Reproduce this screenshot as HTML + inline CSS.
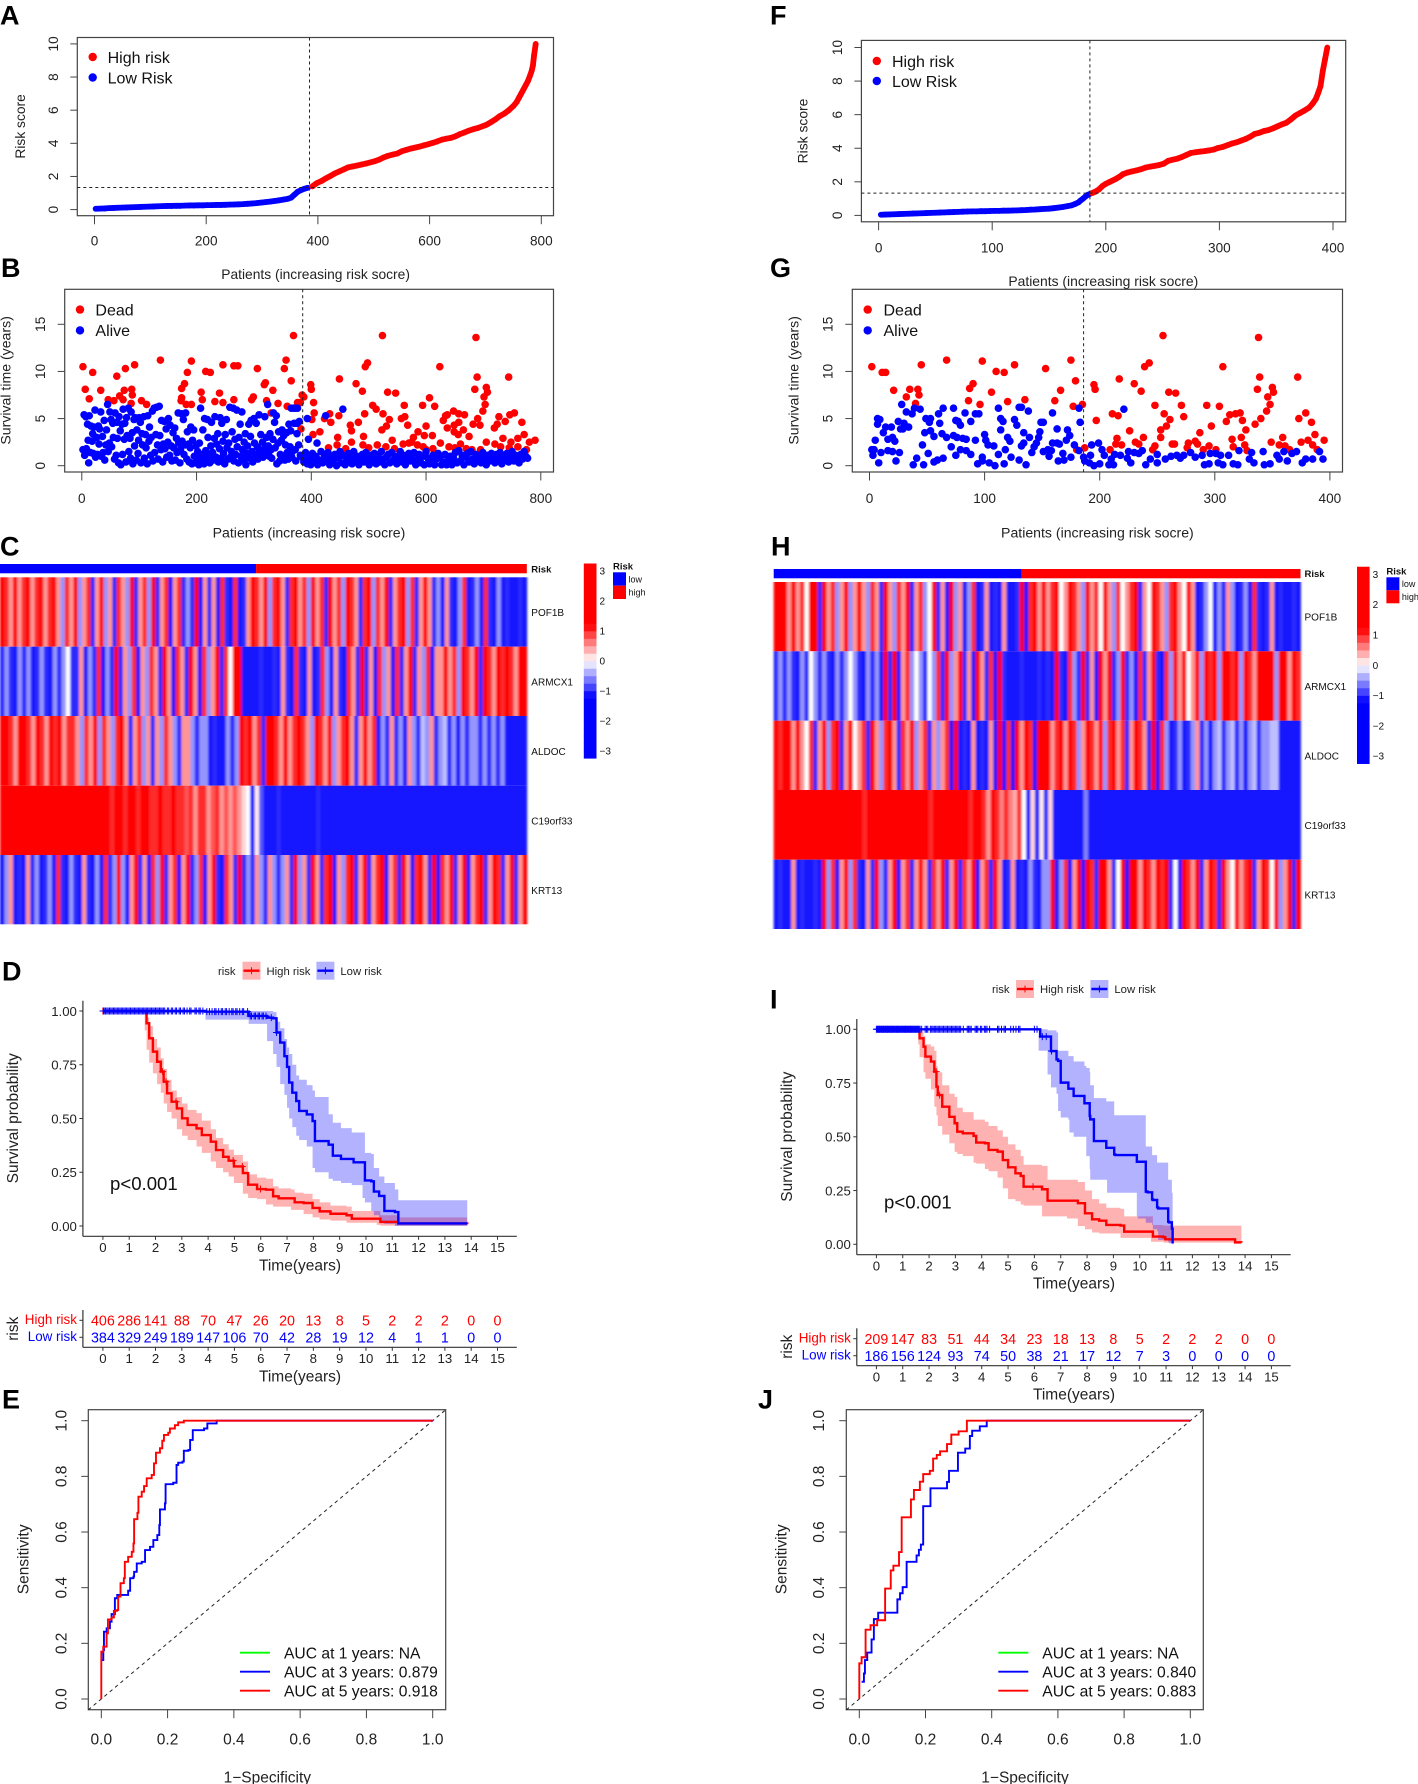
<!DOCTYPE html>
<html lang="en">
<head>
<meta charset="utf-8">
<title>Risk model panels</title>
<style>
html,body{margin:0;padding:0;background:#fff}
svg{display:block;font-family:"Liberation Sans",Arial,sans-serif;filter:blur(.35px)}
</style>
</head>
<body>
<svg id="figure" xmlns="http://www.w3.org/2000/svg" width="1418" height="1784" viewBox="0 0 1418 1784">
<defs><filter id="stripe-soften" x="-1%" y="0%" width="102%" height="100%"><feGaussianBlur stdDeviation="1.1 0"/></filter></defs>
</svg>
<script>
/* ---------- Panel A: risk score curve ---------- */
const aLowX=[2,10,18,26,34,42,50,58,66,74,82,90,98,106,114,122,130,138,146,154,162,170,178,186,194,202,210,218,226,234,242,250,258,266,274,282,290,298,306,314,322,330,338,346,352,358,364,370,376,382];
const aLowY=[.05,.06,.07,.09,.1,.11,.12,.13,.14,.15,.16,.17,.18,.19,.2,.21,.22,.22,.23,.23,.24,.25,.25,.26,.26,.27,.27,.28,.28,.29,.3,.31,.32,.33,.35,.37,.39,.42,.45,.48,.52,.56,.6,.65,.72,.9,1.08,1.18,1.26,1.32];
const aHighX=[390,398,406,414,422,430,438,446,454,462,470,478,486,494,502,510,518,526,534,542,550,558,566,574,582,590,598,606,614,622,630,638,646,654,662,670,678,686,694,702,710,718,726,734,742,750,756,760,764,768,772,776,780,783,785,787,790];
const aHighY=[1.4,1.6,1.72,1.88,2.02,2.18,2.3,2.42,2.55,2.6,2.66,2.72,2.78,2.85,2.92,3.02,3.15,3.25,3.32,3.38,3.52,3.6,3.68,3.74,3.8,3.88,3.95,4.03,4.12,4.22,4.28,4.33,4.42,4.55,4.65,4.76,4.85,4.92,5.02,5.12,5.28,5.45,5.65,5.8,6,6.25,6.5,6.75,7,7.25,7.5,7.75,8.1,8.4,8.7,9.3,10];
/* ---------- Panel F: risk score curve ---------- */
const fLowX=[2,6,10,14,18,22,26,30,34,38,42,46,50,54,58,62,66,70,74,78,82,86,90,94,98,102,106,110,114,118,122,126,130,134,138,142,146,150,154,158,162,166,170,173,176,178,180,182,184,186];
const fLowY=[.04,.05,.06,.07,.08,.09,.1,.11,.12,.13,.14,.15,.16,.17,.18,.19,.2,.21,.22,.23,.24,.24,.25,.25,.26,.27,.27,.28,.28,.29,.3,.31,.32,.34,.35,.37,.39,.4,.43,.46,.5,.55,.6,.68,.78,.9,1,1.12,1.22,1.28];
const fHighX=[188,191,194,197,200,203,206,209,212,215,219,223,227,231,235,239,243,247,251,255,259,263,267,271,275,279,283,287,291,295,299,303,307,311,315,319,323,327,331,335,339,343,347,351,355,359,363,367,371,375,379,382,385,387,389,391,393,395];
const fHighY=[1.33,1.42,1.55,1.75,1.88,1.98,2.08,2.18,2.3,2.45,2.55,2.62,2.68,2.75,2.85,2.9,2.95,3,3.08,3.25,3.32,3.38,3.48,3.6,3.72,3.76,3.8,3.83,3.87,3.92,4.02,4.08,4.18,4.28,4.35,4.45,4.55,4.68,4.85,4.92,5.02,5.08,5.18,5.3,5.42,5.52,5.72,5.95,6.1,6.25,6.42,6.65,6.95,7.3,7.7,8.6,9.3,10];
/* ---------- Panel B: survival scatter ---------- */
const bDeadX=[2,6,13,19,33,46,56,61,66,76,74,72,87,88,86,92,104,113,137,174,174,179,173,184,182,191,191,208,210,216,224,232,240,246,246,265,265,272,296,299,306,318,320,322,330,333,342,353,356,358,365,369,376,381,387,384,382,399,400,404,405,401,403,415,423,432,434,448,449,478,489,446,468,470,482,493,491,494,498,507,513,525,524,533,547,536,531,523,541,557,563,562,568,594,606,615,600,586,597,611,578,570,624,630,634,637,648,637,649,649,657,657,667,665,656,675,687,689,685,705,707,701,703,699,690,682,694,744,727,724,719,738,746,754,767,734,705,771,760,748,790,780,430,445,460,470,490,500,515,530,545,560,575,585,595,600,612,625,640,650,660,670,680,695,720,730,745,760,775];
const bDeadT=[10.5,8.1,7.1,9.9,8,7,6.9,9.5,7.4,10.3,8,7,8.1,7.5,6.6,10.7,6.9,6.5,11.2,7.2,8.2,8.7,6.9,9.9,6.5,11.1,6.5,7.8,7,10,9.9,6.8,7.7,10.7,6.7,7,10.6,10.6,7,7.3,10.3,8.6,8.8,6.9,5.6,8,6.6,10.3,11.2,6.3,9,13.8,6.7,6.7,7.3,7.5,3.9,8.6,8.1,6.7,5.6,4.9,3.3,3.6,5,5.5,4.6,5.3,9.2,8.7,7.9,3,4.3,3.7,4.6,5.5,3.1,10.5,10.9,6.4,6,5.5,13.8,7.8,7.7,4.9,4.2,3.8,2.7,5,5.2,6.4,4.3,6.4,7.2,6.3,4.2,3.6,3.2,3.2,3,2.4,10.5,4.8,5.3,5.4,5.8,4,4.3,3.6,4.6,5.5,5.4,3.8,3.3,3.1,13.6,9.4,8.1,8.3,7.8,7.3,6.5,5.8,5,4.4,4.3,9.4,5.2,4.4,4,4.7,5.4,5.6,4.6,2.9,2.5,3.3,2.9,2.5,2.7,2.5,1.9,2.2,1.8,2.5,2.2,1.9,2.2,2,1.8,2.3,2.5,2.2,2,1.7,1.8,2.4,2,1.9,2.3,1.8,1.7,1.7,2.3,2,1.9,2,1.7];
const bAliveX=[2,4,5,7,8,10,11,12,13,15,16,18,19,20,21,23,24,26,27,29,30,31,33,34,36,37,39,40,42,43,45,46,48,49,51,52,54,55,57,58,60,61,62,64,65,67,68,70,71,72,74,75,77,78,79,81,82,84,85,86,88,89,91,92,93,95,96,98,99,100,102,103,105,106,108,109,111,112,114,115,117,118,120,121,123,124,126,127,129,130,132,133,135,136,138,139,141,142,144,145,147,148,150,151,153,154,156,157,159,160,162,163,165,166,168,169,171,172,174,175,177,178,180,181,183,184,186,187,189,190,192,193,195,196,198,199,201,202,204,205,207,208,210,211,213,214,216,217,219,220,222,223,225,226,228,229,231,232,234,235,237,238,240,241,243,244,246,247,249,250,252,253,255,256,258,259,261,262,264,265,267,268,270,271,273,274,276,277,279,280,282,283,285,286,288,289,291,292,294,295,297,298,300,301,303,304,306,307,309,310,312,313,315,316,318,319,321,322,324,325,327,328,330,331,333,334,336,337,339,340,342,343,345,346,348,349,351,352,354,355,357,358,360,361,363,364,366,367,369,370,372,373,375,376,378,379,381,365,372,375,393,395,410,425,455,384,387,390,393,396,399,402,405,408,411,414,417,420,423,426,429,432,435,438,441,444,447,450,453,456,459,462,465,468,471,474,477,480,483,486,489,492,495,498,501,504,507,510,513,516,519,522,525,528,531,534,537,540,543,546,549,552,555,558,561,564,567,570,573,576,579,582,585,588,591,594,597,600,603,606,609,612,615,618,621,624,627,630,633,636,639,642,645,648,651,654,657,660,663,666,669,672,675,678,681,684,687,690,693,696,699,702,705,708,711,714,717,720,723,726,729,732,735,738,741,744,747,750,753,756,759,762,765,768,771,774,777,780,783,786,789];
const bAliveT=[1.7,5.4,1.1,5.2,1.8,4.4,2.7,.3,5.3,1.4,4.2,2.6,3.4,1.3,4.1,5.9,.9,3,1.2,4.2,2.3,3.9,5.7,1,3.1,1.4,4.8,.6,2.2,3.8,6.5,1.5,2.4,5.7,4.9,2,4.5,3,.7,5.6,1.1,4.6,2.9,.3,5.2,3.7,.1,4.4,1.2,6,2.8,4.5,.4,5.1,3.2,6.1,1.5,2.9,.8,5.7,3.5,.2,4.9,2.1,5.1,.6,3.8,1.3,2.7,5.1,4.6,.3,3.4,2.2,5.2,.8,3.3,1.9,.2,5.3,2.6,4.1,1.1,3,5.8,.5,6.1,1.4,3.3,6.2,2.2,.7,6.3,3.2,1.7,4.8,.4,2.3,4.7,1.8,3.9,.9,2.5,5,1.1,4.3,2.1,.5,3.5,1.9,4,.6,2.9,1.4,5.6,2.4,.3,1.7,5.5,2.6,4.9,1.2,2.2,5.6,.7,3.6,2.3,.4,1.9,4.1,.2,2.7,3.8,1,.3,2.1,.8,1.5,.1,2.4,6.1,.5,1.2,3.8,.2,5,1.6,.7,4.9,3,1.1,.3,2.1,4.6,1.4,.6,2.9,5.2,.9,2.3,3.4,.4,1.8,5.1,.8,4.5,2.6,1.3,.2,3.3,4.9,1.9,.7,2.4,6.2,.9,1.5,3.6,6.1,.5,2.8,1.2,5.9,2,.3,3,4.4,1,5.7,1.7,.6,2.5,3.4,.1,1.3,2.1,4.4,.8,3.1,4.8,1.5,.4,5,2.4,1.1,4.5,2,.7,5.4,1.6,3.3,1.2,2.5,.9,1.8,5.2,1.4,3,6.5,2.1,1,3.4,1.7,.8,2.8,5.6,4.6,1.9,5.3,.2,2.4,3.6,.5,1.2,2.7,3.8,1,3.2,.6,2.2,3.5,1.4,.7,4.4,2,3.7,.9,1.5,6.1,4.5,1.7,.5,3.4,6.1,2.2,4.7,1.1,6.1,6.1,4.5,5,2.8,2.4,5.3,6,.9,.4,1.4,.2,.8,.1,1.3,.5,1,.1,.6,1.5,.3,1.1,.7,1.4,.1,.9,.5,1.2,0,.8,1.5,.3,1.1,.1,.6,1.3,.9,.2,1.5,.5,1,.1,.7,1.2,.4,1.4,.8,.1,1.1,.6,1.3,.2,1,.4,1.5,.7,.1,.9,1.2,.3,1.4,.6,1,.2,.8,1.5,.4,1.1,.1,.7,1.3,.5,.9,1.4,.1,.6,1.2,.3,1,.1,1.5,.8,.2,.5,1.1,.1,.7,1.3,.9,.1,.4,1.2,.1,.6,1,.1,.8,1.4,.3,1.6,.5,1.1,.1,.9,1.3,.4,1.5,.7,.2,1.2,.6,1,.3,1.4,.8,.1,1.1,.5,1.3,.9,.3,1.2,.7,1.4,.2,1,.6,1.3,.4,.8,1.5,.5,1.1,.9,.3,1.2,.7,1.5,1,.8];
/* ---------- Panel G: survival scatter ---------- */
const gDeadX=[2,11,14,21,32,35,42,43,40,45,67,86,87,90,96,98,106,110,117,120,126,135,153,161,166,175,177,179,180,185,187,195,196,197,209,211,216,217,215,214,219,226,230,236,231,234,238,239,243,248,255,256,260,266,261,258,253,253,246,248,263,265,271,273,276,277,283,287,285,290,293,297,295,301,304,307,310,313,318,322,324,315,316,323,327,326,328,335,337,338,339,340,345,346,348,350,351,349,356,359,361,365,372,373,375,379,381,384,385,387,389,395];
const gDeadT=[10.5,9.9,9.9,8,7.3,8.1,8.1,7.5,6.6,10.7,11.2,6.9,8.2,8.7,6.5,11.1,7.8,10,9.9,6.8,10.7,7,10.3,6.9,8,11.2,6.3,9,1.7,6.5,1.9,8.6,8.1,4.8,1.7,5.5,5.3,9.2,2.9,2.3,2.2,3.7,8.7,7.9,2.5,2.3,3,10.5,10.9,6.4,13.8,5.5,7.8,7.7,4.9,4.2,3.8,3,1.7,2.1,2.3,2.3,6.4,5.2,1.9,2.4,2.6,3.5,2.3,1.7,6.4,4.2,2.1,1.7,6.3,10.5,4.7,5.4,5.5,5.6,4.8,2.8,2,3,3.8,2.2,1.6,4.4,8.1,13.6,9.4,5,5.8,7.3,6.5,8.3,7.8,2.5,2.2,3,2.1,1.7,9.4,5,2.5,5.6,2.7,4.6,2.2,3.3,1.7,2.7];
const gAliveX=[2,4,3,8,10,5,7,9,7,12,14,19,16,20,16,20,22,23,26,25,28,27,30,29,34,32,37,39,44,38,41,46,47,48,49,53,52,53,56,51,56,60,64,61,59,63,67,64,71,73,75,77,79,73,76,81,83,84,75,79,84,88,88,92,95,92,94,98,100,101,104,98,103,108,109,112,112,114,116,114,117,118,120,122,123,126,128,130,132,134,130,132,134,136,138,139,141,143,145,147,149,151,148,151,155,156,158,159,159,163,163,165,164,168,169,171,172,174,175,178,182,183,182,186,187,191,193,195,192,199,200,202,204,208,210,212,213,221,218,224,225,227,230,234,237,240,244,250,250,257,262,267,270,273,279,283,289,291,295,296,301,303,307,305,312,316,320,321,330,332,334,342,343,348,354,356,360,363,367,371,376,379,385,391,394];
const gAliveT=[1.7,1.7,1.1,.3,1.4,2.7,5,4.9,4.4,3.5,4.1,4.1,2.8,3,1.6,1.5,2.6,.5,1.4,4.7,6.5,3.9,4.5,3.9,4.1,5.7,5.5,6.1,6,.1,.8,2.2,.1,3.5,5,5,4.6,3.7,3.1,1.3,.4,5.5,6.1,4.5,.6,3.4,3,.8,2,6.1,4.8,4.7,4.3,3.2,3,2.9,5.6,2.8,1.1,1.7,1.6,4.7,1.2,5.5,5.5,2.7,.2,.9,3.3,2.7,.3,.5,2.2,2.1,0,6.1,1.2,5,4.7,3.8,.2,1.7,3,2.6,.9,4.9,4.3,6.2,6.2,3.5,.6,2.1,2.4,.1,5.8,3,1.4,2,2.4,3,4.6,4.6,3.6,1.5,1.7,1,1.6,5.6,2.4,2.4,3.9,2.3,.5,1.3,.6,2.7,3.8,3.2,.9,2.2,6.1,4.6,1.6,.9,.5,.3,2.2,0,1.1,2.4,.2,1.7,1.1,.1,.7,.1,1.2,6,1.1,.8,1.5,.3,1.4,1.3,1.6,.1,.7,1.2,.3,.7,1,1.1,.8,1.1,1.4,.9,1.1,.1,.2,1.3,1.3,.3,.1,1.1,1.1,.2,.1,1.6,.7,1.4,.3,1.5,.1,.2,1.1,.7,1.5,.5,1.3,1.5,.3,.7,.7,1.5,.7];
/* ---------- Heatmap C ---------- */
const cPOF1B=[2,1,.5,2,.5,1,2,.5,1,2,.5,1,2,.5,-.5,1,.5,2,-.5,.5,1,-1,.5,2,-.5,.5,-1,1,.5,-.5,2,-1,.5,1,-.5,2,-1,.5,1,-2,.5,1,-1,-.5,-1,2,-2,.5,-1,.5,-2,1,-1,-2,1,-2,-1,.5,2,1,.5,2,-.5,1,2,.5,-1,1,2,.5,1,-.5,2,.5,1,-1,2,.5,1,-.5,2,1,.5,-1,1,2,-.5,1,.5,2,-1,.5,1,2,-.5,1,-1,.5,2,.5,-1,-.5,-2,.5,-1,-2,-.5,1,-2,-1,-.5,-2,1,-1,-2,-.5,-2,-1,-2,-2,-1,-2];
const cARMCX1=[-1,-.5,-1,-2,-.5,-1,-.5,-2,-1,-.5,-1,-2,-.5,-1,-.5,0,-1,-1,.5,-2,-.5,-1,1,-2,-.5,-1,2,-1,.5,-.5,1,-2,.5,-.5,1,.5,-1,2,.5,-2,1,.5,-1,2,.5,-2,1,-.5,.5,2,-1,1,0,2,2,-2,-2,-2,-2,-1,-2,-2,-1,-2,.5,-1,-2,1,-1,-2,.5,-2,-1,1,-.5,-2,.5,-1,-2,1,.5,-1,2,-1,.5,-2,1,-.5,.5,-2,1,-1,.5,2,-1,.5,-.5,1,-2,.5,.5,2,.5,1,-.5,2,1,.5,2,-1,2,1,.5,2,1,2,1,.5,2,2];
const cALDOC=[2,2,1,.5,2,2,1,.5,2,1,.5,2,1,2,.5,1,1,.5,-.5,1,.5,2,-.5,1,.5,-.5,1,2,.5,-1,.5,1,-.5,.5,-1,.5,-.5,1,.5,-.5,-1,.5,.5,-.5,-1,-.5,-.5,-2,-1,-2,-2,-.5,-1,-.5,2,1,2,.5,1,-1,2,2,1,.5,2,.5,1,2,1,.5,-.5,2,1,.5,2,-.5,.5,1,2,.5,-1,.5,2,.5,1,-2,-.5,-1,.5,-1,-.5,-2,.5,-.5,-1,-.3,-.5,.5,-1,-.5,-.3,-1,-.5,-2,-.5,-1,-.5,-.5,-1,-.5,-1,-.5,-1,-.5,-2,-2,-2,-2,-2];
const cC19orf33=[2,2,2,2,2,2,2,2,2,2,2,2,2,2,2,2,2,2,2,2,2,2,2,2,2,1,2,2,1,2,2,1,2,2,1,1,2,1,1,2,1,1,.8,1,.5,1,1,.5,.8,1,.5,.8,.5,.8,.5,.2,0,-1.5,.1,-.8,-1.5,-2,-1.5,-1,-2,-1.5,-2,-1.2,-2,-2,-1.5,-2,-1,-2,-2,-1.5,-2,-2,-1.5,-2,-2,-2,-1.5,-2,-2,-2,-1.5,-2,-2,-2,-2,-1.5,-2,-2,-2,-2,-1.5,-2,-2,-2,-2,-2,-1.5,-2,-2,-2,-2,-1.5,-2,-2,-2,-2,-2,-1.5,-2,-2,-2,-2,-2,-2];
const cKRT13=[-2,-.5,.5,-2,-1,-2,.5,-1,-.5,-2,-1,-.5,-2,1,-1,-2,-.5,-1,-2,.5,-1,-2,-.5,-2,1,-1,-.5,2,-.5,-2,.5,2,-1,.5,-2,1,-.5,2,-1,.5,1,-2,.5,2,-1,-.5,1,-2,.5,2,-1,-2,1,.5,-1,2,-1,-.5,-1,.5,-.5,-1,.5,-.5,-1,-.5,.5,-1,2,-.5,.5,-1,2,.5,-1,1,2,-2,.5,-.5,1,2,-1,.5,2,-1,.5,1,2,-2,.5,1,-1,2,.5,-2,1,2,.5,-1,2,-2,1,.5,2,-1,.5,2,-2,.5,1,2,-1,.5,2,1,-1,.5,2,-1,.5,2];
/* ---------- Heatmap H ---------- */
const hPOF1B=[2,2,2,.5,2,.5,1,0,2,2,-1,2,.5,1,-.5,.5,2,-.5,.5,2,.5,-.5,1,.5,-1,2,.5,-.5,1,.5,2,-1,.5,1,-.5,0,2,-1,.5,-2,2,-.5,.5,-2,-.5,1,-2,-1,.5,-2,-1,-2,.5,-2,-2,-1,2,-2,1,2,.5,2,.5,1,2,0,.5,2,1,.5,-.5,2,.5,1,0,2,.5,-.5,1,0,.5,1,2,-1,.5,0,2,1,.5,-.5,1,2,.5,0,2,.5,-2,-1,-.5,0,-2,-.5,-1,.5,-.5,-2,-1,-.5,-2,1,-1,-2,-1,.5,-2,-1,-2,-2,-1,-2];
const hARMCX1=[-1,-.5,-1,-.5,-1,-2,-.5,-1,0,-.5,-1,-.5,-1,-2,-.5,-1,-.5,0,-.5,-1,-2,-.5,-1,-.5,-2,2,-1,2,-2,.5,1,-.5,0,-.5,-1,0,-.5,1,-1,2,-.5,.5,2,-1,.5,-2,2,.5,-1,1,-2,2,-1,-2,-2,-2,-1,-2,-2,-2,-1,-2,-1,-2,2,-1,-2,1,-.5,-1,2,-1,.5,-2,2,.5,2,-1,-.5,2,-1,-.5,-2,1,-1,.5,2,-1,-2,1,-.5,2,.5,2,0,.5,2,-.5,2,1,2,-.5,2,2,1,2,-.5,2,1,.5,2,2,2,2,-.5,2,2,.5,2,1];
const hALDOC=[2,1,2,2,.5,2,.5,0,1,-1,.5,2,-.5,1,2,-1,.5,2,0,.5,1,-1,2,.5,-.5,1,2,.5,-1,1,.5,2,-.5,.5,1,-1,.5,-.5,.5,1,-2,2,-2,-1,-2,.5,-2,-1,-2,.5,-2,2,-2,1,-2,2,.5,2,1,-2,2,2,2,.5,1,2,.5,2,1,-.5,.5,2,1,.5,2,-.5,1,2,.5,1,-1,.5,2,1,.5,-1,2,-2,1,-.5,-2,-1,-.5,-2,-1,-.5,.5,-1,-.5,-2,-.5,-.3,-1,-.5,-.3,-1,-.5,-2,-.5,-.3,-1,-.5,-.5,-.3,-.3,-2,-2,-2,-2,-2];
const hC19orf33=[2,2,2,2,2,2,2,1.5,2,2,2,1.5,2,2,2,2,1.5,2,2,2,1,2,2,1.5,2,2,2,2,1.5,2,2,2,2,1.5,2,1,2,2,2,1.5,2,2,2,1.5,1,2,1.5,1,.5,1.5,1,.6,1,.6,.4,1,0,-1.5,.2,-2,.1,-1,.2,-2,-2,-2,-2,-1.5,-2,-2,-.6,-2,-2,-2,-2,-1.5,-2,-2,-2,-2,-2,-1.5,-2,-2,-2,-2,-2,-1.5,-2,-2,-2,-2,-2,-1.5,-2,-2,-2,-2,-1.5,-2,-2,-2,-2,-2,-1.5,-2,-2,-2,-2,-1.5,-2,-2,-2,-2,-2,-2,-1.5,-2,-2];
const hKRT13=[-2,-1,-2,-2,.5,-2,-1,-2,-2,-1,-2,2,-.5,1,-2,.5,2,-.5,1,-1,-2,.5,-1,2,-.5,-1,.5,2,-2,.5,1,-1,.5,2,.5,-1,1,.5,2,-1,.5,2,-1,1,.5,2,-2,.5,1,-1,2,.5,-2,-1,.5,-2,-1,-2,-.5,-1,-2,-.5,-.5,2,-2,-.5,1,-2,.5,2,-2,2,1,-1,2,2,.5,-1,0,2,-2,2,2,.5,2,1,.5,2,1,2,-1,0,-2,2,1,.5,2,-1,.5,2,1,-1,2,.5,0,2,.5,1,2,-1,.5,2,1,0,2,-.5,.5,2,-1,2];
/* ---------- Heatmap labels and shared levels ---------- */
const geneNames=["POF1B","ARMCX1","ALDOC","C19orf33","KRT13"];
const colorbarLevels=[-3.25,-3,-2.75,-2.5,-2.25,-2,-1.75,-1.5,-1.25,-1,-.75,-.5,-.25,0,.25,.5,.75,1,1.25,1.5,1.75,2,2.25,2.5,2.75,3,3.25];
const colorbarTicks=[3,2,1,0,-1,-2,-3];
const cRiskCounts=[384,406];
const hRiskCounts=[186,209];
/* ---------- KM panel D ---------- */
const dHighT=[0,1.59,1.66,1.76,1.9,2.06,2.2,2.31,2.44,2.61,2.81,3.01,3.22,3.56,3.76,4.1,4.3,4.57,4.78,4.98,5.32,5.52,5.86,6.2,6.47,6.68,7.15,7.29,7.63,7.97,8.24,8.65,9.26,9.46,10.41,10.55,11.23,13.74,13.85];
const dHighS=[1,1,.943,.873,.811,.764,.718,.671,.617,.578,.547,.501,.47,.454,.423,.392,.353,.322,.304,.277,.246,.192,.172,.169,.138,.129,.129,.11,.107,.084,.068,.057,.05,.034,.034,.019,.012,.012,.008];
const dHighU=[1,1,.97,.93,.87,.83,.78,.73,.68,.63,.6,.57,.54,.525,.49,.45,.41,.38,.355,.33,.3,.24,.225,.22,.185,.175,.17,.155,.15,.125,.11,.095,.09,.07,.07,.05,.04,.04,.035];
const dHighL=[1,1,.91,.82,.76,.71,.66,.62,.57,.53,.5,.45,.42,.4,.37,.34,.3,.27,.25,.23,.2,.15,.13,.125,.1,.09,.09,.075,.075,.055,.04,.03,.025,.015,.015,.005,.002,.002,.002];
const dLowT=[0,3.9,5.54,6.24,6.47,6.6,6.74,6.9,7,7.08,7.2,7.35,7.46,7.75,7.97,8.06,8.58,8.74,9.05,9.46,9.53,9.87,9.96,10.2,10.3,10.5,10.7,11.1,11.23,13.85];
const dLowS=[1,.997,.977,.969,.966,.9,.853,.79,.74,.667,.62,.581,.535,.519,.488,.395,.378,.327,.312,.312,.296,.296,.212,.208,.16,.14,.07,.065,.012,.012];
const dLowU=[1,1,1,1,.995,.95,.92,.87,.83,.8,.75,.7,.68,.655,.63,.6,.52,.48,.455,.435,.435,.435,.34,.335,.27,.23,.2,.17,.12,.12];
const dLowL=[1,.99,.96,.94,.86,.8,.74,.66,.61,.55,.5,.46,.42,.4,.37,.27,.25,.22,.21,.2,.19,.19,.13,.11,.07,.05,.02,.01,0,0];
const dCensorHigh=[0,.4,2.27,2.4,2.78,4.95,5.3,5.99];
const dCensorLow=[.02,.05,.1,.15,.2,.25,.3,.35,.4,.45,.5,.55,.6,.65,.7,.75,.8,.85,.9,.95,1,1.05,1.1,1.15,1.2,1.25,1.3,1.35,1.4,1.45,1.5,1.55,1.6,1.65,1.7,1.75,1.8,1.85,1.9,1.95,2,2.05,2.1,2.15,2.2,2.25,2.3,2.35,2.45,2.5,2.6,2.65,2.75,2.8,2.9,2.95,3.05,3.1,3.2,3.3,3.35,3.5,3.55,3.65,3.7,3.8,3.95,4.05,4.15,4.25,4.3,4.4,4.5,4.55,4.65,4.7,4.8,4.9,4.95,5.05,5.1,5.2,5.3,5.35,5.5,5.6,5.65,5.75,5.8,5.9,5.95,6.05,6.1,6.2,6.4,6.6];
const dHighAtRisk=[406,286,141,88,70,47,26,20,13,8,5,2,2,2,0,0];
const dLowAtRisk=[384,329,249,189,147,106,70,42,28,19,12,4,1,1,0,0];
/* ---------- KM panel I ---------- */
const iHighT=[0,1.59,1.64,1.79,1.86,2.07,2.2,2.28,2.33,2.5,2.77,2.97,3.07,3.28,3.69,3.79,4.12,4.26,4.6,4.8,5,5.28,5.48,5.59,6.29,6.5,7.24,7.65,7.92,8.19,8.46,8.73,9.27,9.41,10.43,10.5,10.9,10.97,13.59,13.62,13.86];
const iHighS=[1,1,.958,.919,.873,.85,.803,.733,.694,.64,.593,.563,.524,.516,.504,.473,.47,.439,.431,.392,.358,.33,.318,.268,.256,.203,.203,.191,.144,.116,.11,.09,.087,.059,.059,.036,.033,.023,.023,.009,.008];
const iHighU=[1,1,.99,.97,.93,.92,.9,.83,.8,.74,.7,.685,.635,.615,.58,.58,.57,.55,.53,.5,.465,.44,.41,.37,.365,.3,.3,.29,.25,.21,.19,.17,.165,.13,.13,.09,.087,.087,.087,.087,.078];
const iHighL=[1,1,.93,.87,.8,.77,.72,.64,.6,.55,.51,.47,.43,.42,.41,.38,.375,.35,.34,.31,.26,.21,.2,.185,.18,.13,.13,.12,.085,.07,.055,.05,.05,.03,.03,.012,.012,.008,.008,.005,.005];
const iLowT=[0,6.16,6.22,6.5,6.63,6.84,6.9,7,7.29,7.33,7.49,7.9,7.97,8.1,8.12,8.26,8.73,8.76,9.03,9.07,9.89,9.93,10.23,10.3,10.47,10.5,10.66,10.7,11.08,11.11,11.22,11.25];
const iLowS=[1,1,.966,.966,.899,.86,.853,.752,.724,.724,.69,.656,.656,.597,.581,.48,.449,.449,.418,.415,.384,.384,.245,.242,.209,.206,.172,.167,.105,.102,.073,.004];
const iLowU=[1,1,1,.995,.995,.985,.9,.9,.875,.875,.85,.83,.82,.8,.74,.68,.665,.665,.6,.6,.6,.6,.455,.455,.415,.415,.38,.38,.3,.3,.24,.24];
const iLowL=[1,1,.9,.9,.79,.73,.7,.62,.59,.58,.52,.5,.5,.41,.35,.3,.3,.3,.24,.24,.24,.13,.12,.1,.1,.09,.07,.06,.02,.01,.005,0];
const iCensorHigh=[.1,.25,.4,.55,.8,1.1,1.3,2.27,2.4,5.95];
const iCensorLow=[0,.03,.06,.09,.12,.15,.18,.21,.24,.27,.3,.33,.36,.39,.42,.45,.48,.51,.54,.57,.6,.63,.66,.69,.72,.75,.78,.81,.84,.87,.9,.93,.96,.99,1.02,1.05,1.08,1.11,1.14,1.17,1.2,1.23,1.26,1.29,1.32,1.35,1.38,1.41,1.44,1.47,1.5,1.53,1.56,1.59,1.62,1.66,1.72,1.85,1.9,1.95,2.05,2.1,2.15,2.2,2.25,2.3,2.35,2.4,2.45,2.5,2.55,2.6,2.65,2.7,2.75,2.8,2.85,2.9,2.95,3,3.05,3.1,3.15,3.2,3.3,3.45,3.5,3.55,3.6,3.75,3.8,3.85,3.95,4,4.1,4.15,4.2,4.3,4.6,4.65,4.75,4.85,4.9,5.1,5.2,5.3,5.4,5.45,6,6.1,6.3,6.45,6.65];
const iHighAtRisk=[209,147,83,51,44,34,23,18,13,8,5,2,2,2,0,0];
const iLowAtRisk=[186,156,124,93,74,50,38,21,17,12,7,3,0,0,0,0];
const kmYearTicks=[0,1,2,3,4,5,6,7,8,9,10,11,12,13,14,15];
const kmProbTicks=[0,.25,.5,.75,1];
const kmProbLabels=["0.00","0.25","0.50","0.75","1.00"];
/* ---------- ROC panel E ---------- */
const eRoc5F=[0,0,.006,.014,.016,.02,.031,.038,.048,.051,.058,.068,.071,.081,.092,.097,.099,.109,.112,.122,.129,.137,.152,.159,.165,.177,.184,.189,.202,.207,.222,.232,.249,1];
const eRoc5T=[0,.17,.188,.188,.236,.286,.293,.317,.32,.368,.416,.434,.493,.511,.529,.559,.646,.669,.727,.745,.765,.793,.805,.847,.885,.901,.928,.949,.957,.972,.984,.994,1,1];
const eRoc3F=[0,.006,.008,.016,.026,.031,.041,.041,.048,.081,.087,.097,.099,.107,.122,.132,.147,.157,.169,.175,.177,.192,.194,.217,.227,.232,.245,.249,.263,.268,.276,.31,.32,.348,1];
const eRoc3T=[.14,.176,.242,.254,.278,.305,.314,.362,.374,.389,.434,.44,.457,.487,.493,.535,.547,.571,.589,.625,.681,.703,.772,.777,.841,.849,.853,.892,.895,.931,.966,.972,.99,1,1];
/* ---------- ROC panel J ---------- */
const jRoc5F=[0,0,.007,.019,.034,.054,.078,.095,.103,.12,.128,.156,.165,.183,.193,.213,.223,.234,.244,.265,.278,.3,.325,1];
const jRoc5T=[0,.128,.15,.249,.265,.283,.397,.462,.479,.528,.653,.717,.751,.781,.808,.82,.864,.877,.89,.916,.95,.962,1,1];
const jRoc3F=[.007,.014,.017,.024,.037,.044,.057,.115,.123,.131,.143,.173,.18,.186,.193,.215,.265,.271,.298,.32,.334,.341,.364,.385,1];
const jRoc3T=[.062,.092,.14,.167,.214,.287,.31,.358,.38,.402,.493,.516,.536,.555,.693,.757,.78,.82,.885,.9,.945,.964,.98,1,1];
const rocTicks=[0,.2,.4,.6,.8,1];
const rocLabels=["0.0","0.2","0.4","0.6","0.8","1.0"];
const riskYTicks=[0,2,4,6,8,10];
const survYTicks=[0,5,10,15];

/* ---------- helpers ---------- */
const NS="http://www.w3.org/2000/svg";
const root=document.getElementById("figure");
function mk(parent,tag,name,attrs){
  const el=document.createElementNS(NS,tag);
  
  
  for(const k in attrs){el.setAttribute(k,attrs[k]);}
  parent.appendChild(el);
  return el;
}
function group(parent,name){return mk(parent,"g",name,{});}
function txt(parent,name,x,y,str,size,opt){
  const o=opt||{};
  const t=mk(parent,"text",name,{
    transform:"translate("+x+" "+y+")"+(o.rot?" rotate("+o.rot+")":""),
    "font-size":size,
    "text-anchor":o.anchor||"middle",
    fill:o.fill||"#222",
    dy:".36em"
  });
  if(o.weight){t.setAttribute("font-weight",o.weight);}
  t.textContent=str;
  return t;
}
function line(parent,name,x1,y1,x2,y2,color,w,dash){
  const l=mk(parent,"line",name,{x1:x1,y1:y1,x2:x2,y2:y2,stroke:color,"stroke-width":w});
  if(dash){l.setAttribute("stroke-dasharray",dash);}
  return l;
}
function scale(d0,d1,r0,r1){return v=>r0+(v-d0)*(r1-r0)/(d1-d0);}
function fmtTick(v){return String(v).replace("-","\u2212");}

function drawDots(parent,name,xs,ys,sx,sy,r,color){
  const n=Math.min(xs.length,ys.length);
  for(let i=0;i<n;i++){
    mk(parent,"circle",name,{cx:sx(xs[i]),cy:sy(ys[i]),r:r,fill:color});
  }
}
function joinDots(parent,name,xs,ys,sx,sy,w,color){
  let pts="";
  const n=Math.min(xs.length,ys.length);
  for(let i=0;i<n;i++){pts+=sx(xs[i])+","+sy(ys[i])+" ";}
  mk(parent,"polyline",name,{points:pts,fill:"none",stroke:color,"stroke-width":w,"stroke-linejoin":"round"});
}
function rBase(c){
  const g=group(root,c.name);
  mk(g,"rect","plot-box",{x:c.box[0],y:c.box[1],width:c.box[2]-c.box[0],height:c.box[3]-c.box[1],fill:"none",stroke:"#444","stroke-width":1.2});
  const sx=scale(c.xd[0],c.xd[1],c.xr[0],c.xr[1]);
  const sy=scale(c.yd[0],c.yd[1],c.yr[0],c.yr[1]);
  c.xTicks.forEach((v,i)=>{
    line(g,"x-axis-tick",sx(v),c.box[3],sx(v),c.box[3]+8.5,"#444",1);
    txt(g,"x-tick-label",sx(v),c.xLabelY,c.xLabels?c.xLabels[i]:String(v),c.tickSize);
  });
  c.yTicks.forEach((v,i)=>{
    line(g,"y-axis-tick",c.box[0]-7,sy(v),c.box[0],sy(v),"#444",1);
    txt(g,"y-tick-label",c.yTickX,sy(v),c.yLabels?c.yLabels[i]:String(v),c.tickSize,{rot:-90});
  });
  txt(g,"x-axis-title",c.xTitle[0],c.xTitle[1],c.xTitle[2],c.titleSize);
  txt(g,"y-axis-title",c.yTitle[0],c.yTitle[1],c.yTitle[2],c.titleSize,{rot:-90});
  return {g,sx,sy};
}
function legendDots(g,x,tx,rows){
  rows.forEach(r=>{
    mk(g,"circle","legend-dot",{cx:x,cy:r[1],r:4.2,fill:r[2]});
    txt(g,"legend-label",tx,r[1],r[0],16,{anchor:"start",fill:"#111"});
  });
}
function riskPanel(c,lowX,lowY,highX,highY){
  const p=rBase(c);
  joinDots(p.g,"risk-band-low",lowX,lowY,p.sx,p.sy,5.8,"#0000ff");
  drawDots(p.g,"risk-point-low",lowX,lowY,p.sx,p.sy,2.9,"#0000ff");
  joinDots(p.g,"risk-band-high",highX,highY,p.sx,p.sy,5.8,"#ff0000");
  drawDots(p.g,"risk-point-high",highX,highY,p.sx,p.sy,2.9,"#ff0000");
  line(p.g,"cutoff-vertical",p.sx(c.cutX),c.box[1],p.sx(c.cutX),c.box[3],"#222",1,"3 3");
  line(p.g,"cutoff-horizontal",c.box[0],p.sy(c.cutY),c.box[2],p.sy(c.cutY),"#222",1,"3 3");
  legendDots(p.g,c.legend[0],c.legend[1],[["High risk",c.legend[2],"#ff0000"],["Low Risk",c.legend[3],"#0000ff"]]);
}
function survPanel(c,deadX,deadT,aliveX,aliveT){
  const p=rBase(c);
  drawDots(p.g,"dead-point",deadX,deadT,p.sx,p.sy,3.8,"#ff0000");
  drawDots(p.g,"alive-point",aliveX,aliveT,p.sx,p.sy,3.8,"#0000ff");
  line(p.g,"cutoff-vertical",p.sx(c.cutX),c.box[1],p.sx(c.cutX),c.box[3],"#222",1,"3 3");
  legendDots(p.g,c.legend[0],c.legend[1],[["Dead",c.legend[2],"#ff0000"],["Alive",c.legend[3],"#0000ff"]]);
}

/* ---------- heatmap ---------- */
function heatColor(v){
  const f=Math.min(1,Math.abs(v)/1.2);
  const m=Math.round(255*(1-f));
  return v>=0?"rgb(255,"+m+","+m+")":"rgb("+m+","+m+",255)";
}
function cellColor(v){
  const f=Math.min(v<0?.9:1,Math.abs(v)/1.2);
  const m=Math.round(255*(1-f));
  return v>=0?"rgb(255,"+m+","+m+")":"rgb("+m+","+m+",255)";
}
function heatmap(c,rows,counts){
  const g=group(root,c.name);
  const W=c.x1-c.x0;
  const total=counts[0]+counts[1];
  const bx=scale(0,total,c.x0,c.x1);
  mk(g,"rect","risk-annotation-low",{x:bx(0),y:c.annot[0],width:bx(counts[0])-bx(0),height:c.annot[1]-c.annot[0],fill:"#0000ff"});
  mk(g,"rect","risk-annotation-high",{x:bx(counts[0]),y:c.annot[0],width:bx(total)-bx(counts[0]),height:c.annot[1]-c.annot[0],fill:"#ff0000"});
  txt(g,"annotation-label",c.labelX,c.annotLabelY,"Risk",9.5,{anchor:"start",weight:"bold",fill:"#111"});
  rows.forEach((vals,r)=>{
    const y0=c.rowY[r],y1=c.rowY[r+1];
    const cw=W/vals.length;
    const cs=scale(0,vals.length,c.x0,c.x1);
    const rowG=mk(g,"g","heatmap-row",{filter:"url(#stripe-soften)"});
    vals.forEach((v,i)=>{
      mk(rowG,"rect","heatmap-cell",{x:cs(i),y:y0,width:cw+.4,height:y1-y0,fill:cellColor(v)});
    });
    txt(g,"gene-label",c.labelX,c.labelY[r],geneNames[r],10,{anchor:"start",fill:"#111"});
  });
  const cb=scale(-3,3,c.cb3[1],c.cb3[0]);
  colorbarLevels.forEach((v,i)=>{
    if(i===colorbarLevels.length-1)return;
    mk(g,"rect","colorbar-step",{x:c.cbX[0],y:cb(colorbarLevels[i+1]),width:c.cbX[1]-c.cbX[0],height:cb(v)-cb(colorbarLevels[i+1])+.4,fill:heatColor((v+colorbarLevels[i+1])/2)});
  });
  colorbarTicks.forEach(v=>{
    txt(g,"colorbar-tick-label",c.cbX[1]+3,cb(v),fmtTick(v),10,{anchor:"start",fill:"#111"});
  });
  txt(g,"risk-legend-title",c.lg[0],c.lg[1],"Risk",9.5,{anchor:"start",weight:"bold",fill:"#111"});
  mk(g,"rect","risk-legend-low-swatch",{x:c.lg[0],y:c.lg[2],width:13,height:c.lg[3]-c.lg[2],fill:"#0000ff"});
  mk(g,"rect","risk-legend-high-swatch",{x:c.lg[0],y:c.lg[3],width:13,height:c.lg[4]-c.lg[3],fill:"#ff0000"});
  txt(g,"risk-legend-low-label",c.lg[0]+15.5,(c.lg[2]+c.lg[3])/2,"low",9,{anchor:"start",fill:"#111"});
  txt(g,"risk-legend-high-label",c.lg[0]+15.5,(c.lg[3]+c.lg[4])/2,"high",9,{anchor:"start",fill:"#111"});
}

/* ---------- Kaplan-Meier ---------- */
function stepD(ts,ss,sx,sy){
  let d="M"+sx(ts[0])+" "+sy(ss[0]);
  const n=Math.min(ts.length,ss.length);
  for(let i=1;i<n;i++){d+="H"+sx(ts[i])+"V"+sy(ss[i]);}
  return d;
}
function bandD(ts,us,ls,sx,sy){
  let d=stepD(ts,us,sx,sy);
  const n=Math.min(ts.length,us.length,ls.length);
  d+="L"+sx(ts[n-1])+" "+sy(ls[n-1]);
  for(let i=n-2;i>=0;i--){d+="V"+sy(ls[i+1])+"H"+sx(ts[i]);}
  d+="V"+sy(ls[0])+"Z";
  return d;
}
function survAt(ts,ss,t){
  let s=ss[0];
  for(let i=0;i<ts.length;i++){if(ts[i]<=t){s=ss[i];}}
  return s;
}
function censorMarks(g,name,times,ts,ss,sx,sy,color){
  times.forEach(t=>{
    const x=sx(t),y=sy(survAt(ts,ss,t));
    mk(g,"path",name,{d:"M"+(x-3.5)+" "+y+"H"+(x+3.5)+"M"+x+" "+(y-3.5)+"V"+(y+3.5),stroke:color,"stroke-width":1,fill:"none"});
  });
}
function kmPanel(c,hi,lo,hiN,loN){
  const g=group(root,c.name);
  const sx=scale(0,15,c.x0y,c.x15);
  const sy=scale(0,1,c.y0,c.y1);
  const axisX=c.axisX,right=c.right;
  mk(g,"path","km-red-band",{d:bandD(hi.t,hi.u,hi.l,sx,sy),fill:"rgba(255,0,0,.3)"});
  mk(g,"path","km-blue-band",{d:bandD(lo.t,lo.u,lo.l,sx,sy),fill:"rgba(0,0,255,.3)"});
  mk(g,"path","km-high-risk-curve",{d:stepD(hi.t,hi.s,sx,sy),fill:"none",stroke:"#ff0000","stroke-width":2.4});
  censorMarks(g,"km-high-censor",hi.c,hi.t,hi.s,sx,sy,"#ff0000");
  mk(g,"path","km-low-risk-curve",{d:stepD(lo.t,lo.s,sx,sy),fill:"none",stroke:"#0000ff","stroke-width":2.4});
  censorMarks(g,"km-low-censor",lo.c,lo.t,lo.s,sx,sy,"#0000ff");
  line(g,"km-y-axis",axisX,c.top,axisX,c.bottom,"#333",1.2);
  line(g,"km-x-axis",axisX,c.bottom,right,c.bottom,"#333",1.2);
  kmYearTicks.forEach(v=>{
    line(g,"km-x-tick",sx(v),c.bottom,sx(v),c.bottom+3.5,"#333",1);
    txt(g,"km-x-tick-label",sx(v),c.tickY,String(v),13.2);
  });
  kmProbTicks.forEach((v,i)=>{
    line(g,"km-y-tick",axisX-3.5,sy(v),axisX,sy(v),"#333",1);
    txt(g,"km-y-tick-label",axisX-6,sy(v),kmProbLabels[i],13.2,{anchor:"end"});
  });
  txt(g,"km-x-axis-title",c.titleX,c.xTitleY,"Time(years)",15.5);
  txt(g,"km-y-axis-title",c.yTitleX,c.yTitleY,"Survival probability",15.5,{rot:-90});
  txt(g,"p-value",c.pX,c.pY,"p<0.001",18.6,{anchor:"start",fill:"#111"});
  txt(g,"km-legend-title",c.lgTitle,c.lgY,"risk",11.3,{anchor:"start"});
  [[c.swRed,"High risk","rgba(255,0,0,.3)","#ff0000"],[c.swBlue,"Low risk","rgba(0,0,255,.3)","#0000ff"]].forEach(e=>{
    mk(g,"rect","km-legend-swatch",{x:e[0],y:c.lgY-9,width:18,height:18,fill:e[2]});
    line(g,"km-legend-line",e[0]+1,c.lgY,e[0]+17,c.lgY,e[3],2.4);
    line(g,"km-legend-mark",e[0]+9,c.lgY-3.5,e[0]+9,c.lgY+3.5,e[3],1);
    txt(g,"km-legend-label",e[0]+24,c.lgY,e[1],11.3,{anchor:"start"});
  });
  /* number-at-risk table */
  const t=group(g,"risk-table");
  line(t,"table-y-axis",axisX,c.tTop,axisX,c.tBottom,"#333",1.2);
  line(t,"table-x-axis",axisX,c.tBottom,right,c.tBottom,"#333",1.2);
  line(t,"table-row-tick",axisX-3.5,c.rowA,axisX,c.rowA,"#333",1);
  line(t,"table-row-tick",axisX-3.5,c.rowB,axisX,c.rowB,"#333",1);
  txt(t,"table-row-label-high",axisX-6,c.rowA-1,"High risk",13.4,{anchor:"end",fill:"#ff0000"});
  txt(t,"table-row-label-low",axisX-6,c.rowB-1,"Low risk",13.4,{anchor:"end",fill:"#0000ff"});
  txt(t,"table-y-title",c.yTitleX,c.tTitleY,"risk",15.5,{rot:-90});
  kmYearTicks.forEach((v,i)=>{
    txt(t,"table-high-count",sx(v),c.rowA,String(hiN[i]),14.3,{fill:"#ff0000"});
    txt(t,"table-low-count",sx(v),c.rowB,String(loN[i]),14.3,{fill:"#0000ff"});
    line(t,"table-x-tick",sx(v),c.tBottom,sx(v),c.tBottom+3.5,"#333",1);
    txt(t,"table-x-tick-label",sx(v),c.tTickY,String(v),13.2);
  });
  txt(t,"table-x-axis-title",c.titleX,c.tXTitleY,"Time(years)",15.5);
}

/* ---------- ROC ---------- */
function rocPanel(c,f5,t5,f3,t3,auc3,auc5){
  const p=rBase(c);
  const dlo=(c.box[0]-p.sx(0))/(p.sx(1)-p.sx(0));
  const dhi=(c.box[2]-p.sx(0))/(p.sx(1)-p.sx(0));
  line(p.g,"diagonal-reference",p.sx(dlo),p.sy(dlo),p.sx(dhi),p.sy(dhi),"#222",1,"3.5 3.5");
  mk(p.g,"path","roc-curve-3-years",{d:stepD(f3,t3,p.sx,p.sy),fill:"none",stroke:"#0000ff","stroke-width":1.9});
  mk(p.g,"path","roc-curve-5-years",{d:stepD(f5,t5,p.sx,p.sy),fill:"none",stroke:"#ff0000","stroke-width":1.9});
  [["AUC at 1 years: NA","#00ff00"],["AUC at 3 years: "+auc3,"#0000ff"],["AUC at 5 years: "+auc5,"#ff0000"]].forEach((r,i)=>{
    const y=1652.7+19*i;
    line(p.g,"roc-legend-line",c.lgX,y,c.lgX+30,y,r[1],1.9);
    txt(p.g,"roc-legend-label",c.lgX+44,y,r[0],15.65,{anchor:"start",fill:"#111"});
  });
}

/* ---------- panel letters ---------- */
[["A",0,24.3],["B",1,276.8],["C",0,555.4],["D",2,980.7],["E",2,1408.3],["F",770,24.3],["G",770,276.8],["H",771,555.4],["I",770,1008.3],["J",758,1408.3]].forEach(L=>{
  const t=mk(root,"text","panel-letter-"+L[0].toLowerCase(),{x:L[1],y:L[2],"font-size":27,"font-weight":"bold",fill:"#000"});
  t.textContent=L[0];
});

/* ---------- draw ---------- */
const riskTitle="Patients (increasing risk socre)";
riskPanel({name:"panel-a-risk-score",box:[77.3,37.5,553.5,215.7],xd:[0,800],xr:[94.5,541.3],yd:[0,10],yr:[209.6,43.9],xTicks:[0,200,400,600,800],yTicks:riskYTicks,xLabelY:240.7,yTickX:53,tickSize:13.6,titleSize:13.8,xTitle:[315.6,274,riskTitle],yTitle:[20,126.4,"Risk score"],cutX:385,cutY:1.33,legend:[92.7,107.6,57,77.5]},aLowX,aLowY,aHighX,aHighY);
survPanel({name:"panel-b-survival-status",box:[64.7,289.3,553.5,472],xd:[0,800],xr:[81.8,540.8],yd:[0,15],yr:[465.7,324.3],xTicks:[0,200,400,600,800],yTicks:survYTicks,xLabelY:498,yTickX:40,tickSize:13.6,titleSize:14.1,xTitle:[309,532.5,riskTitle],yTitle:[5.5,380.4,"Survival time (years)"],cutX:385,legend:[80,95.4,309.6,330.4]},bDeadX,bDeadT,bAliveX,bAliveT);
riskPanel({name:"panel-f-risk-score",box:[861.4,40.4,1345.7,221.8],xd:[0,400],xr:[878.6,1333],yd:[0,10],yr:[215.4,47.5],xTicks:[0,100,200,300,400],yTicks:riskYTicks,xLabelY:247.5,yTickX:837,tickSize:13.6,titleSize:13.9,xTitle:[1103.3,281,riskTitle],yTitle:[802.6,131,"Risk score"],cutX:186,cutY:1.33,legend:[876.8,892,61,81]},fLowX,fLowY,fHighX,fHighY);
survPanel({name:"panel-g-survival-status",box:[852.3,289.3,1342.5,472],xd:[0,400],xr:[869.5,1329.9],yd:[0,15],yr:[465.7,324.3],xTicks:[0,100,200,300,400],yTicks:survYTicks,xLabelY:498,yTickX:827.5,tickSize:13.6,titleSize:14.1,xTitle:[1097.4,532.5,riskTitle],yTitle:[793.6,380.4,"Survival time (years)"],cutX:186,legend:[867.7,883.5,309.6,330.4]},gDeadX,gDeadT,gAliveX,gAliveT);

heatmap({name:"panel-c-heatmap",x0:0,x1:526.8,annot:[564,573.3],annotLabelY:569,labelX:531.3,rowY:[577.3,646.7,716,785.7,855,924.3],labelY:[612.3,681.7,751.3,820.7,890.3],cbX:[583.8,596.5],cb3:[571,750.7],lg:[613,566.3,572.3,585.7,599]},[cPOF1B,cARMCX1,cALDOC,cC19orf33,cKRT13],cRiskCounts);
heatmap({name:"panel-h-heatmap",x0:773.7,x1:1300.5,annot:[569,578.3],annotLabelY:573.7,labelX:1304.5,rowY:[582,651.3,720.7,790,859.7,929],labelY:[617,686.3,756,825.3,894.7],cbX:[1357,1369.6],cb3:[574.3,756],lg:[1386.4,571,577.3,590.3,603.3]},[hPOF1B,hARMCX1,hALDOC,hC19orf33,hKRT13],hRiskCounts);

kmPanel({name:"panel-d-km",x0y:102.9,x15:497.5,y0:1226,y1:1011,axisX:82.9,right:516.8,top:1000.7,bottom:1236.3,tickY:1247.3,titleX:300,xTitleY:1265,yTitleX:12.5,yTitleY:1118.3,pX:110,pY:1183.3,lgTitle:218,lgY:970.7,swRed:242.5,swBlue:316.4,tTop:1310,tBottom:1347.3,rowA:1320.3,rowB:1337.3,tTitleY:1328.7,tTickY:1358.3,tXTitleY:1375.7},
 {t:dHighT,s:dHighS,u:dHighU,l:dHighL,c:dCensorHigh},{t:dLowT,s:dLowS,u:dLowU,l:dLowL,c:dCensorLow},dHighAtRisk,dLowAtRisk);
kmPanel({name:"panel-i-km",x0y:876.4,x15:1271.4,y0:1244.3,y1:1029.3,axisX:856.8,right:1290.7,top:1019,bottom:1254.7,tickY:1265.7,titleX:1074,xTitleY:1283,yTitleX:786.4,yTitleY:1136.7,pX:884,pY:1201.7,lgTitle:992,lgY:989,swRed:1016,swBlue:1090.4,tTop:1328.3,tBottom:1365.7,rowA:1338.7,rowB:1355.7,tTitleY:1346.7,tTickY:1376.7,tXTitleY:1393.7},
 {t:iHighT,s:iHighS,u:iHighU,l:iHighL,c:iCensorHigh},{t:iLowT,s:iLowS,u:iLowU,l:iLowL,c:iCensorLow},iHighAtRisk,iLowAtRisk);

rocPanel({name:"panel-e-roc",box:[88.3,1409.7,445.7,1709.7],xd:[0,1],xr:[101.3,432.7],yd:[0,1],yr:[1699,1420.7],xTicks:rocTicks,yTicks:rocTicks,xLabels:rocLabels,yLabels:rocLabels,xLabelY:1739,yTickX:60.7,tickSize:15.5,titleSize:15.5,xTitle:[267.3,1777,"1\u2212Specificity"],yTitle:[22.7,1559.3,"Sensitivity"],lgX:240},eRoc5F,eRoc5T,eRoc3F,eRoc3T,"0.879","0.918");
rocPanel({name:"panel-j-roc",box:[846.3,1409.7,1203.3,1709.7],xd:[0,1],xr:[859.3,1190.3],yd:[0,1],yr:[1699,1420.7],xTicks:rocTicks,yTicks:rocTicks,xLabels:rocLabels,yLabels:rocLabels,xLabelY:1739,yTickX:818.3,tickSize:15.5,titleSize:15.5,xTitle:[1025,1777,"1\u2212Specificity"],yTitle:[780.7,1559.3,"Sensitivity"],lgX:998.3},jRoc5F,jRoc5T,jRoc3F,jRoc3T,"0.840","0.883");
</script>
</body>
</html>
